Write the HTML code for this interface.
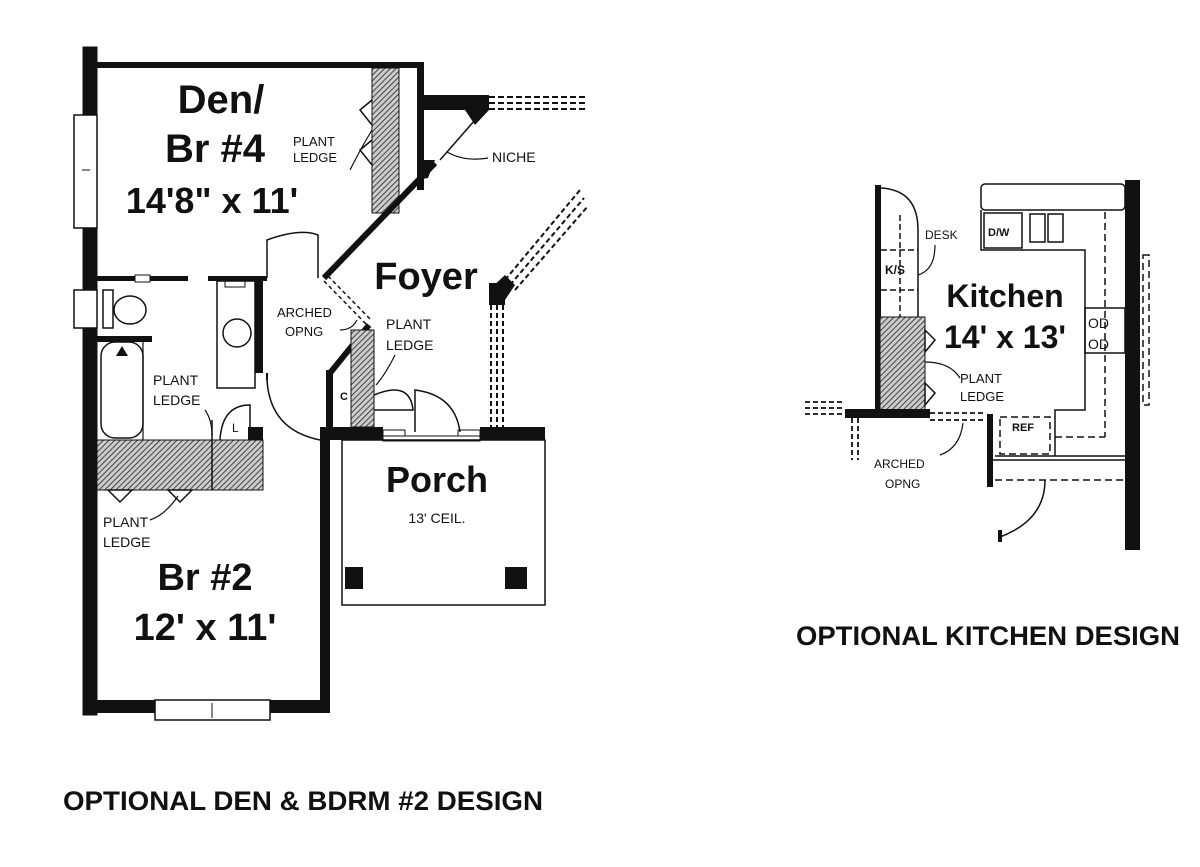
<!DOCTYPE html>
<html><head><meta charset="utf-8"><style>
html,body{margin:0;padding:0;background:#fff;}
svg{display:block;}
text{font-family:"Liberation Sans",sans-serif;fill:#111;}
.b{font-weight:bold;}
.n{font-family:"Liberation Sans Narrow","Liberation Sans",sans-serif;}
</style></head><body>
<svg width="1200" height="867" viewBox="0 0 1200 867" xmlns="http://www.w3.org/2000/svg">
<defs>
<pattern id="h" width="4" height="4" patternUnits="userSpaceOnUse" patternTransform="rotate(45)">
<rect width="4" height="4" fill="#ccc"/><line x1="0" y1="0" x2="0" y2="4" stroke="#222" stroke-width="1.6"/>
</pattern>
</defs>
<g stroke="#111" fill="none">
<!-- LEFT PLAN -->
<rect x="83" y="47" width="14" height="668" fill="#111"/>
<rect x="74" y="115" width="23" height="113" fill="#fff" stroke-width="1.5"/>
<line x1="82" y1="170" x2="90" y2="170"/>
<rect x="97" y="62" width="327" height="6" fill="#111" stroke="none"/>
<rect x="417" y="62" width="7" height="128" fill="#111" stroke="none"/>
<rect x="372" y="68" width="27" height="145" fill="url(#h)" stroke-width="1"/>
<polyline points="372,100 360,110 372,125" stroke-width="1.5"/>
<polyline points="372,140 360,150 372,165" stroke-width="1.5"/>
<path d="M350,170 Q360,150 372,130" stroke-width="1.2"/>
<!-- niche -->
<rect x="424" y="95" width="65" height="15" fill="#111" stroke="none"/>
<polygon points="465,110 489,110 475,125" fill="#111" stroke="none"/>
<g stroke-dasharray="6,3" stroke-width="2"><line x1="489" y1="97" x2="585" y2="97"/><line x1="489" y1="103" x2="585" y2="103"/><line x1="489" y1="109" x2="585" y2="109"/></g>
<line x1="475" y1="120" x2="440" y2="160" stroke-width="1.5"/>
<path d="M447,152 Q465,162 488,158" stroke-width="1.2"/>
<line x1="435" y1="163" x2="324" y2="278" stroke-width="6"/>
<polygon points="417,160 435,160 428,178 417,180" fill="#111" stroke="none"/>
<!-- interior wall -->
<rect x="97" y="276" width="91" height="5" fill="#111" stroke="none"/>
<rect x="135" y="275" width="15" height="7" fill="#fff" stroke-width="1"/>
<rect x="208" y="276" width="59" height="5" fill="#111" stroke="none"/>
<rect x="255" y="276" width="8" height="97" fill="#111" stroke="none"/>
<rect x="217" y="281" width="38" height="107" stroke-width="1.5"/>
<circle cx="237" cy="333" r="14" stroke-width="1.5"/>
<rect x="225" y="281" width="20" height="6" stroke-width="1"/>
<!-- toilet -->
<rect x="74" y="290" width="23" height="38" stroke-width="1.5" fill="#fff"/>
<rect x="103" y="290" width="10" height="38" stroke-width="1.5"/>
<ellipse cx="130" cy="310" rx="16" ry="14" stroke-width="1.5"/>
<!-- tub -->
<rect x="97" y="336" width="55" height="6" fill="#111" stroke="none"/>
<rect x="101" y="342" width="42" height="96" rx="14" stroke-width="1.5"/>
<polygon points="122,346 116,356 128,356" fill="#111" stroke="none"/>
<line x1="143" y1="342" x2="143" y2="440" stroke-width="1.2"/>
<!-- small closet L -->
<path d="M220,440 Q222,405 250,405 L250,440" stroke-width="1.5"/>
<text x="232" y="432" font-size="12" stroke="none">L</text>
<rect x="248" y="427" width="15" height="13" fill="#111" stroke="none"/>
<!-- door arcs -->
<path d="M267,278 L267,240 Q300,228 318,235 L318,278" stroke-width="1.5"/>
<path d="M267,380 Q270,430 320,440" stroke-width="1.5"/>
<line x1="267" y1="373" x2="267" y2="380" stroke-width="2"/>
<!-- arched opening -->
<g stroke-dasharray="4,3" stroke-width="1.5"><line x1="324" y1="281" x2="367" y2="325"/><line x1="328" y1="276" x2="371" y2="320"/></g>
<line x1="369" y1="325" x2="330" y2="373" stroke-width="6"/>
<rect x="326" y="370" width="7" height="60" fill="#111" stroke="none"/>
<path d="M357,320 Q352,330 340,330" stroke-width="1.2"/>
<rect x="351" y="330" width="23" height="97" fill="url(#h)" stroke-width="1"/>
<text x="340" y="400" font-size="11" class="b" stroke="none">C</text>
<path d="M374,395 Q410,380 413,410 L374,410" stroke-width="1.5"/>
<path d="M395,355 Q385,375 376,385" stroke-width="1.2"/>
<path d="M415,432 L415,390 Q455,395 460,432" stroke-width="1.5"/>
<!-- foyer right wall -->
<rect x="489" y="283" width="16" height="22" fill="#111" stroke="none"/>
<polygon points="489,290 505,275 515,285 505,300" fill="#111" stroke="none"/>
<g stroke-dasharray="5,3" stroke-width="2"><line x1="491" y1="305" x2="491" y2="427"/><line x1="497" y1="305" x2="497" y2="427"/><line x1="503" y1="305" x2="503" y2="427"/>
<line x1="505" y1="280" x2="580" y2="190"/><line x1="510" y1="285" x2="584" y2="198"/><line x1="515" y1="290" x2="588" y2="206"/></g>
<!-- porch top wall -->
<rect x="328" y="427" width="55" height="13" fill="#111" stroke="none"/>
<rect x="480" y="427" width="65" height="13" fill="#111" stroke="none"/>
<rect x="383" y="430" width="22" height="6" stroke-width="1"/>
<rect x="458" y="430" width="22" height="6" stroke-width="1"/>
<rect x="383" y="436" width="97" height="5" stroke-width="1"/>
<!-- porch -->
<rect x="342" y="440" width="203" height="165" stroke-width="1.5"/>
<rect x="345" y="567" width="18" height="22" fill="#111" stroke="none"/>
<rect x="505" y="567" width="22" height="22" fill="#111" stroke="none"/>
<!-- Br2 ledge -->
<rect x="97" y="440" width="166" height="50" fill="url(#h)" stroke-width="1"/>
<line x1="212" y1="420" x2="212" y2="490" stroke-width="1.5"/>
<polygon points="108,490 120,502 132,490" stroke-width="1.5" fill="#fff"/>
<polygon points="168,490 180,502 192,490" stroke-width="1.5" fill="#fff"/>
<path d="M150,520 Q165,515 178,496" stroke-width="1.2"/>
<path d="M205,410 Q212,420 212,435" stroke-width="1.2"/>
<rect x="320" y="427" width="10" height="286" fill="#111" stroke="none"/>
<rect x="83" y="700" width="247" height="13" fill="#111" stroke="none"/>
<rect x="155" y="700" width="115" height="20" fill="#fff" stroke-width="1.5"/>
<line x1="212" y1="703" x2="212" y2="718"/>

<!-- KITCHEN -->
<rect x="875" y="185" width="6" height="233" fill="#111" stroke="none"/>
<path d="M881,188 Q918,190 918,230 L918,317" stroke-width="1.5"/>
<g stroke-dasharray="6,3" stroke-width="1.5"><line x1="900" y1="215" x2="900" y2="413"/><line x1="881" y1="250" x2="918" y2="250"/><line x1="881" y1="290" x2="918" y2="290"/></g>
<rect x="880" y="317" width="45" height="96" fill="url(#h)" stroke-width="1"/>
<polygon points="925,330 935,340 925,352" stroke-width="1.5"/>
<polygon points="925,383 935,393 925,405" stroke-width="1.5"/>
<path d="M925,362 Q950,362 960,378" stroke-width="1.2"/>
<rect x="845" y="409" width="85" height="9" fill="#111" stroke="none"/>
<g stroke-dasharray="5,3" stroke-width="1.8"><line x1="805" y1="402" x2="845" y2="402"/><line x1="805" y1="408" x2="845" y2="408"/><line x1="805" y1="414" x2="845" y2="414"/>
<line x1="852" y1="418" x2="852" y2="460"/><line x1="858" y1="418" x2="858" y2="460"/>
<line x1="930" y1="413" x2="985" y2="413"/><line x1="930" y1="420" x2="985" y2="420"/></g>
<path d="M963,423 Q960,448 940,455" stroke-width="1.2"/>
<rect x="987" y="414" width="6" height="73" fill="#111" stroke="none"/>
<rect x="1125" y="180" width="15" height="370" fill="#111" stroke="none"/>
<rect x="981" y="184" width="144" height="26" rx="4" stroke-width="1.5"/>
<polyline points="981,210 981,250 1085,250 1085,410 1055,410 1055,456 995,456" stroke-width="1.5"/>
<line x1="1055" y1="456" x2="1125" y2="456" stroke-width="1.5"/>
<line x1="993" y1="460" x2="1125" y2="460" stroke-width="1.5"/>
<rect x="984" y="213" width="38" height="35" stroke-width="1.5"/>
<rect x="1030" y="214" width="15" height="28" stroke-width="1.5"/>
<rect x="1048" y="214" width="15" height="28" stroke-width="1.5"/>
<rect x="1085" y="308" width="40" height="45" stroke-width="1.5"/>
<g stroke-dasharray="7,4" stroke-width="1.5"><line x1="1105" y1="212" x2="1105" y2="437"/><line x1="1055" y1="437" x2="1105" y2="437"/>
<rect x="1000" y="417" width="50" height="37"/><rect x="1143" y="255" width="6" height="150"/>
<line x1="995" y1="480" x2="1125" y2="480"/></g>
<path d="M1045,480 Q1045,520 1000,537" stroke-width="1.5"/>
<rect x="998" y="530" width="4" height="12" fill="#111" stroke="none"/>
<path d="M918,275 Q935,270 935,245" stroke-width="1.2"/>
</g>
<!-- TEXT -->
<text x="221" y="113" font-size="40" class="b" text-anchor="middle">Den/</text>
<text x="215" y="162" font-size="40" class="b" text-anchor="middle">Br #4</text>
<text x="212" y="213" font-size="36" class="b" text-anchor="middle">14'8" x 11'</text>
<text x="293" y="146" font-size="13" class="n">PLANT</text>
<text x="293" y="162" font-size="13" class="n">LEDGE</text>
<text x="492" y="162" font-size="14" class="n">NICHE</text>
<text x="426" y="289" font-size="38" class="b" text-anchor="middle">Foyer</text>
<text x="277" y="317" font-size="13" class="n">ARCHED</text>
<text x="285" y="336" font-size="13" class="n">OPNG</text>
<text x="386" y="329" font-size="14" class="n">PLANT</text>
<text x="386" y="350" font-size="14" class="n">LEDGE</text>
<text x="153" y="385" font-size="14" class="n">PLANT</text>
<text x="153" y="405" font-size="14" class="n">LEDGE</text>
<text x="437" y="492" font-size="36" class="b" text-anchor="middle">Porch</text>
<text x="437" y="523" font-size="14" text-anchor="middle" class="n">13' CEIL.</text>
<text x="103" y="527" font-size="14" class="n">PLANT</text>
<text x="103" y="547" font-size="14" class="n">LEDGE</text>
<text x="205" y="590" font-size="38" class="b" text-anchor="middle">Br #2</text>
<text x="205" y="640" font-size="38" class="b" text-anchor="middle">12' x 11'</text>
<text x="63" y="810" font-size="27" class="b n" textLength="480" lengthAdjust="spacingAndGlyphs">OPTIONAL DEN &amp; BDRM #2 DESIGN</text>
<text x="925" y="239" font-size="12" class="n">DESK</text>
<text x="885" y="274" font-size="12" class="b n">K/S</text>
<text x="988" y="236" font-size="11" class="b n">D/W</text>
<text x="1005" y="307" font-size="32" class="b" text-anchor="middle">Kitchen</text>
<text x="1005" y="348" font-size="32" class="b" text-anchor="middle">14' x 13'</text>
<text x="1088" y="328" font-size="14" class="n">OD</text>
<text x="1088" y="349" font-size="14" class="n">OD</text>
<text x="960" y="383" font-size="13" class="n">PLANT</text>
<text x="960" y="401" font-size="13" class="n">LEDGE</text>
<text x="1012" y="431" font-size="11" class="b n">REF</text>
<text x="874" y="468" font-size="12" class="n">ARCHED</text>
<text x="885" y="488" font-size="12" class="n">OPNG</text>
<text x="796" y="645" font-size="27" class="b n" textLength="384" lengthAdjust="spacingAndGlyphs">OPTIONAL KITCHEN DESIGN</text>
</svg>
</body></html>
